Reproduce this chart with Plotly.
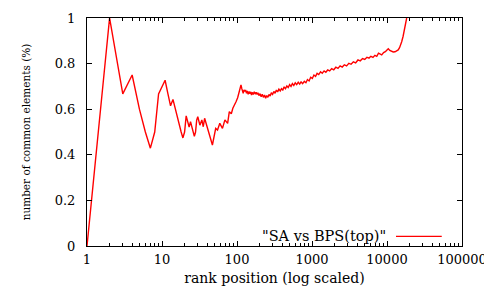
import plotly.graph_objects as go

rank = [1, 2, 3, 4, 5, 6, 7, 8, 9, 10, 11, 12, 13, 14, 15, 16, 17, 18, 19, 20,
        21, 22, 23, 24, 25, 26, 27, 28, 29, 30, 32, 34, 35.5, 37, 41, 47, 52, 55,
        59, 64, 69, 75, 79, 84, 88, 92, 97, 102, 107, 110, 113, 116, 119, 121, 124,
        127, 130, 134, 137, 141, 145, 149, 153, 156, 160, 165, 170, 175, 180, 185,
        190, 196, 203, 210, 217, 225, 233, 241, 249, 258, 267, 277, 287, 298, 310,
        322, 335, 348, 362, 377, 392, 408, 425, 443, 462, 482, 503, 525, 548, 572,
        598, 625, 655, 685, 715, 750, 790, 830, 870, 915, 960, 1010, 1060, 1115,
        1170, 1230, 1300, 1370, 1450, 1530, 1620, 1720, 1830, 1950, 2080, 2220, 2370,
        2530, 2700, 2890, 3100, 3320, 3560, 3820, 4100, 4400, 4720, 5050, 5400, 5750,
        6100, 6500, 6900, 7300, 7700, 8100, 8500, 9000, 9500, 10000, 10400, 10900,
        11500, 12100, 12800, 13500, 14100, 14700, 15200, 15700, 16400, 17100, 18300]
common = [0.0, 1.0, 0.667, 0.75, 0.6, 0.5, 0.429, 0.5, 0.667, 0.7, 0.727, 0.667,
          0.615, 0.643, 0.6, 0.5625, 0.53, 0.5, 0.474, 0.5, 0.571, 0.545, 0.522,
          0.545, 0.52, 0.5, 0.481, 0.5, 0.552, 0.567, 0.53, 0.553, 0.523, 0.56,
          0.509, 0.443, 0.516, 0.509, 0.538, 0.516, 0.553, 0.538, 0.589, 0.58,
          0.604, 0.615, 0.633, 0.65, 0.677, 0.69, 0.706, 0.69, 0.675, 0.67, 0.685,
          0.678, 0.684, 0.67, 0.68, 0.665, 0.678, 0.668, 0.676, 0.662, 0.674, 0.665,
          0.676, 0.668, 0.674, 0.665, 0.672, 0.66, 0.668, 0.655, 0.666, 0.652, 0.662,
          0.648, 0.66, 0.652, 0.665, 0.658, 0.672, 0.665, 0.678, 0.67, 0.684, 0.676,
          0.688, 0.68, 0.69, 0.684, 0.698, 0.69, 0.702, 0.695, 0.708, 0.7, 0.712,
          0.704, 0.716, 0.708, 0.718, 0.71, 0.72, 0.712, 0.722, 0.716, 0.73, 0.724,
          0.74, 0.735, 0.75, 0.744, 0.757, 0.752, 0.764, 0.758, 0.768, 0.762, 0.772,
          0.768, 0.778, 0.773, 0.784, 0.779, 0.79, 0.785, 0.795, 0.79, 0.801, 0.797,
          0.808, 0.803, 0.816, 0.812, 0.822, 0.818, 0.828, 0.824, 0.832, 0.827, 0.836,
          0.832, 0.846, 0.84, 0.838, 0.848, 0.852, 0.86, 0.865, 0.858, 0.853, 0.851,
          0.852, 0.855, 0.86, 0.87, 0.882, 0.896, 0.92, 0.947, 1.0]

series_name = '"SA vs BPS(top)"'
x_ticks = [1, 10, 100, 1000, 10000, 100000]
y_ticks = [0, 0.2, 0.4, 0.6, 0.8, 1]

font = "DejaVu Serif"

fig = go.Figure()
fig.add_trace(go.Scatter(x=rank, y=common, mode="lines", name=series_name,
                         line=dict(color="#ff0000", width=1.4), showlegend=False))

axis_common = dict(showline=True, linecolor="black", linewidth=1, mirror="ticks",
                   ticks="inside", ticklen=5, tickcolor="black", showgrid=False,
                   zeroline=False, automargin=False,
                   tickfont=dict(family=font, size=13, color="black"))

fig.update_xaxes(type="log", range=[0, 5], tickvals=x_ticks,
                 ticktext=[str(v) for v in x_ticks], ticklabelstandoff=1,
                 minor=dict(ticks="inside", ticklen=3, tickcolor="black", dtick="D1"),
                 title=dict(text="rank position (log scaled)",
                            font=dict(family=font, size=14, color="black"), standoff=7),
                 **axis_common)
fig.update_yaxes(range=[0, 1], tickvals=y_ticks,
                 ticktext=["0", "0.2", "0.4", "0.6", "0.8", "1"],
                 ticklabelstandoff=8,
                 title=dict(text="number of common elements (%)",
                            font=dict(family=font, size=10.5, color="black"), standoff=22),
                 **axis_common)

fig.add_annotation(xref="paper", yref="paper", x=0.803, y=0.0425, xanchor="right",
                   yanchor="middle", text=series_name, showarrow=False,
                   font=dict(family=font, size=14.5, color="black"))
fig.add_shape(type="line", xref="paper", yref="paper", x0=0.824, x1=0.946,
              y0=0.0425, y1=0.0425, line=dict(color="#ff0000", width=1.3))

fig.update_layout(width=484, height=282, margin=dict(l=79, r=30, t=10, b=44),
                  paper_bgcolor="white", plot_bgcolor="white", showlegend=False,
                  font=dict(family=font))

fig.write_html("out.html")
